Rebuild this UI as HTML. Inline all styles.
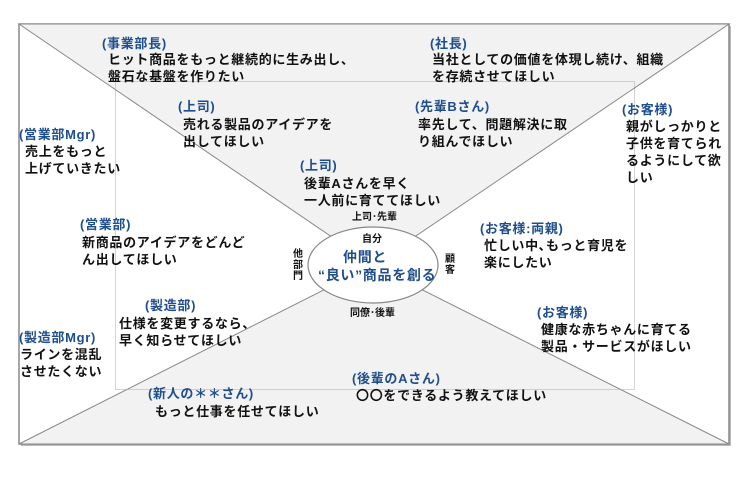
<!DOCTYPE html>
<html><head><meta charset="utf-8"><style>
body{margin:0;background:#fff}
svg text{font-family:"Liberation Sans","Noto Sans CJK JP",sans-serif;font-size:13px;font-weight:bold;fill:#111;letter-spacing:0.7px}
svg text.b{fill:#1f4e8c}
svg text.s{font-size:10px;letter-spacing:0}
</style></head><body>
<svg width="748" height="473" viewBox="0 0 748 473" xmlns="http://www.w3.org/2000/svg">
<rect x="21" y="26" width="710" height="420" fill="#bbb"/>
<rect x="19" y="24" width="710" height="420" fill="#fff" stroke="#888" stroke-width="1.5"/>
<polygon points="19,24 729,24 373,265" fill="#f2f2f2" stroke="#888"/>
<polygon points="19,444 729,444 373,265" fill="#f2f2f2" stroke="#888"/>
<rect x="115.5" y="81.5" width="519" height="308" fill="none" stroke="#aaa" stroke-dasharray="1,1"/>
<ellipse cx="373" cy="265" rx="65" ry="38" fill="#fff" stroke="#888" stroke-width="1.2"/>

<text class="b" x="102" y="48">(事業部長)</text>
<text x="108" y="64">ヒット商品をもっと継続的に生み出し、</text>
<text x="108" y="81">盤石な基盤を作りたい</text>
<text class="b" x="430" y="48">(社長)</text>
<text x="432" y="64">当社としての価値を体現し続け、組織</text>
<text x="432" y="81">を存続させてほしい</text>
<text class="b" x="178" y="111">(上司)</text>
<text x="183" y="129">売れる製品のアイデアを</text>
<text x="183" y="146">出してほしい</text>
<text class="b" x="415" y="111">(先輩Bさん)</text>
<text x="418" y="129">率先して、問題解決に取</text>
<text x="418" y="146">り組んでほしい</text>
<text class="b" x="622" y="114">(お客様)</text>
<text x="626" y="131">親がしっかりと</text>
<text x="626" y="148">子供を育てられ</text>
<text x="626" y="165">るようにして欲</text>
<text x="626" y="182">しい</text>
<text class="b" x="19" y="139">(営業部Mgr)</text>
<text x="25" y="156">売上をもっと</text>
<text x="25" y="173">上げていきたい</text>
<text class="b" x="300" y="170">(上司)</text>
<text x="304" y="188">後輩Aさんを早く</text>
<text x="304" y="205">一人前に育ててほしい</text>
<text class="s" x="352" y="220">上司･先輩</text>
<text class="s" x="362" y="242">自分</text>
<text class="b" x="343" y="262" style="font-size:14px">仲間と</text>
<text class="b" x="318" y="280" style="font-size:14px">“良い”商品を創る</text>
<text class="s" x="293" y="257">他</text>
<text class="s" x="293" y="268">部</text>
<text class="s" x="293" y="279">門</text>
<text class="s" x="445" y="262">顧</text>
<text class="s" x="445" y="273">客</text>
<text class="b" x="480" y="233">(お客様:両親)</text>
<text x="484" y="250">忙しい中､もっと育児を</text>
<text x="484" y="267">楽にしたい</text>
<text class="b" x="80" y="229">(営業部)</text>
<text x="82" y="247">新商品のアイデアをどんど</text>
<text x="82" y="264">ん出してほしい</text>
<text class="b" x="145" y="310">(製造部)</text>
<text x="119" y="328">仕様を変更するなら、</text>
<text x="119" y="345">早く知らせてほしい</text>
<text class="b" x="537" y="317">(お客様)</text>
<text x="541" y="334">健康な赤ちゃんに育てる</text>
<text x="541" y="351">製品・サービスがほしい</text>
<text class="b" x="19" y="342">(製造部Mgr)</text>
<text x="20" y="359">ラインを混乱</text>
<text x="20" y="376">させたくない</text>
<text class="s" x="350" y="316">同僚･後輩</text>
<text class="b" x="352" y="383">(後輩のAさん)</text>
<text x="356" y="400">〇〇をできるよう教えてほしい</text>
<text class="b" x="148" y="398">(新人の＊＊さん)</text>
<text x="155" y="416">もっと仕事を任せてほしい</text>
</svg>
</body></html>
